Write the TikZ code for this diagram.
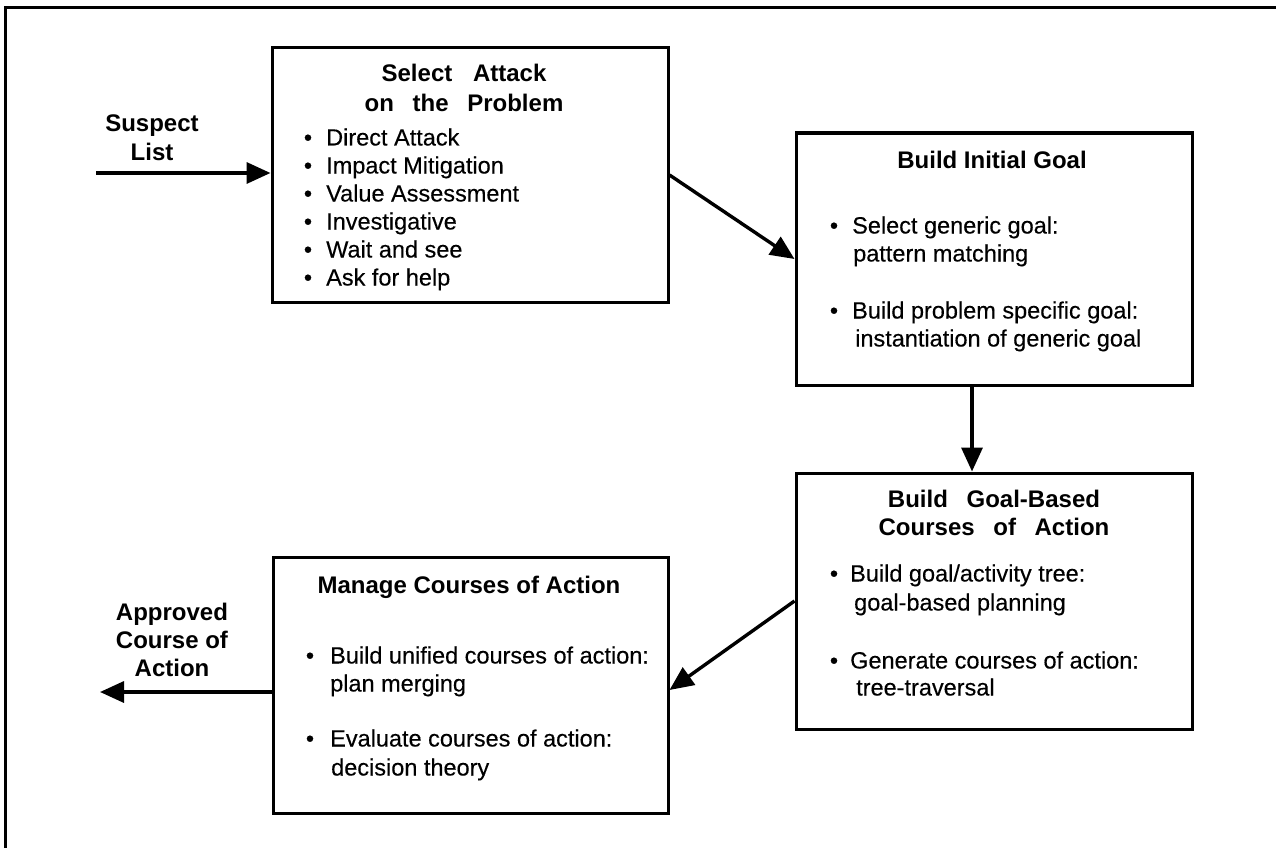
\documentclass[tikz,border=0pt]{standalone}
\usepackage{fontspec}
\setmainfont{Liberation Sans}
\newfontfamily\itemfont[FakeBold=0.3]{Liberation Sans}
\usetikzlibrary{arrows.meta}
\begin{document}
\begin{tikzpicture}[x=1pt,y=-1pt,
  stage/.style={draw, line width=3pt, inner sep=0pt},
  conn/.style={line width=3.4pt, -{Triangle[length=24pt,width=21pt]}},
  head/.style={font=\fontsize{24}{28}\selectfont\bfseries, inner sep=0pt, text height=17pt, text depth=0pt},
  item/.style={font=\itemfont\fontsize{23.5}{28}\selectfont, inner sep=0pt, text height=17pt, text depth=0pt, anchor=west},
  dot/.style={item, anchor=center}
]
\useasboundingbox (0,0) rectangle (1276,848);

% frame along the top and left edges
\draw[line width=3pt] (1276,8) -- (5,8) -- (5,848);

% process stages
\node[stage, minimum width=396pt, minimum height=254pt] (b1) at (470,175) {};
\node[stage, minimum width=396pt, minimum height=252pt] (b2) at (994,259) {};
\node[stage, minimum width=396pt, minimum height=256pt] (b3) at (994,601) {};
\node[stage, minimum width=395pt, minimum height=256pt] (b4) at (470.5,685) {};

% input and output labels
\node[head] (in1) at (152,123) {Suspect};
\node[head] (in2) at (152,152) {List};
\node[head] (out1) at (172,612) {Approved};
\node[head] (out2) at (172,640) {Course of};
\node[head] (out3) at (172,668) {Action};

% stage 1
\node[head] (h1a) at (464,73) {Select\hspace{14pt} Attack};
\node[head] (h1b) at (464,103) {on\hspace{12pt} the\hspace{12pt} Problem};
\foreach \t [count=\i] in {Direct Attack, Impact Mitigation, Value Assessment, Investigative, Wait and see, Ask for help} {
  \node[dot] (d1\i) at (308,{137+28*(\i-1)}) {\textbullet};
  \node[item] (i1\i) at (326,{137+28*(\i-1)}) {\t};
}

% stage 2
\node[head] (h2) at (992,160) {Build Initial Goal};
\node[dot] (d21) at (834,225) {\textbullet};
\node[item] (i21) at (852,225) {Select generic goal:};
\node[item] (i22) at (853,253) {pattern matching};
\node[dot] (d22) at (834,310) {\textbullet};
\node[item] (i23) at (852,310) {Build problem specific goal:};
\node[item] (i24) at (855,338) {instantiation of generic goal};

% stage 3
\node[head] (h3a) at (994,499) {Build\hspace{12pt} Goal-Based};
\node[head] (h3b) at (994,527) {Courses\hspace{12pt} of\hspace{12pt} Action};
\node[dot] (d31) at (834,573) {\textbullet};
\node[item] (i31) at (850,573) {Build goal/activity tree:};
\node[item] (i32) at (854,602) {goal-based planning};
\node[dot] (d32) at (834,660) {\textbullet};
\node[item] (i33) at (850,660) {Generate courses of action:};
\node[item] (i34) at (856,687) {tree-traversal};

% stage 4
\node[head] (h4) at (469,585) {Manage Courses of Action};
\node[dot] (d41) at (310,655) {\textbullet};
\node[item] (i41) at (330,655) {Build unified courses of action:};
\node[item] (i42) at (330,683) {plan merging};
\node[dot] (d42) at (310,738) {\textbullet};
\node[item] (i43) at (330,738) {Evaluate courses of action:};
\node[item] (i44) at (331,767) {decision theory};

% connectors
\coordinate (src) at (96,173);
\coordinate (dst) at (100,692);
\draw[conn] (src) -- (src -| b1.west);
\draw[conn] (b1.east) -- (b2.west);
\draw[conn] ([xshift=-22pt]b2.south) -- ([xshift=-22pt]b3.north);
\draw[conn] (b3.west) -- ([yshift=-5pt]b4.east);
\draw[conn] (dst -| b4.west) -- (dst);
\end{tikzpicture}
\end{document}
